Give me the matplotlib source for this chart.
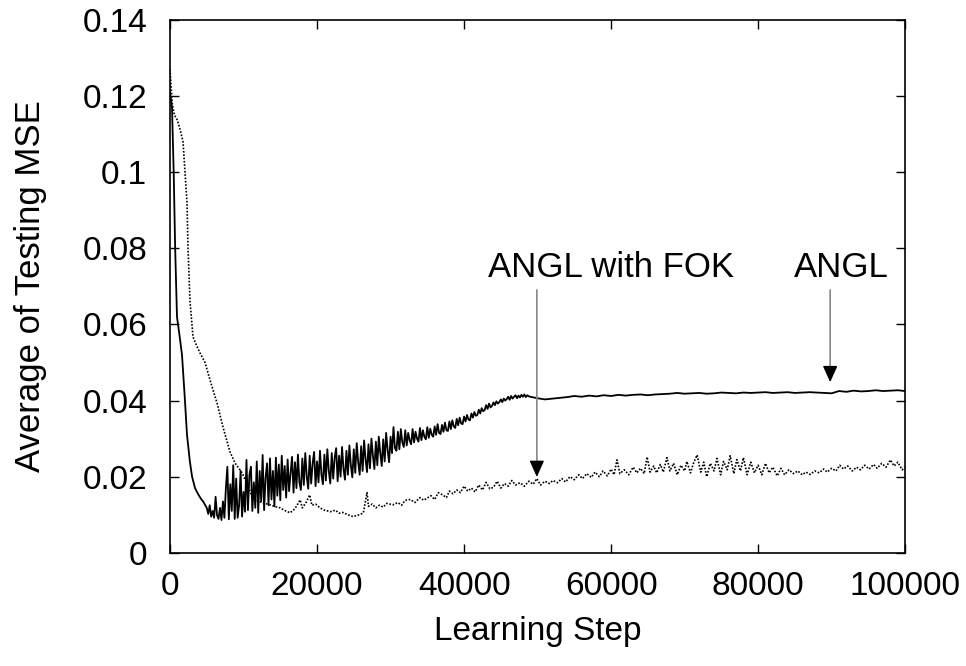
import matplotlib
matplotlib.use("Agg")
import matplotlib.pyplot as plt

plt.rcParams['font.family'] = ['Liberation Sans', 'DejaVu Sans']

# ANGL (solid line): fast initial drop
angl_step_early = [0, 270, 500, 700, 950, 1300, 1630, 2000, 2310, 2700, 3000, 3400,
                   3800, 4200, 4500, 4800]
angl_mse_early = [0.121, 0.117, 0.100, 0.080, 0.062, 0.057, 0.052, 0.041, 0.031, 0.024,
                  0.020, 0.017, 0.0155, 0.0142, 0.0135, 0.0125]

# ANGL: noisy part, one value every 200 steps from 5000 to 48800
angl_step_noisy = list(range(5000, 49000, 200))
angl_mse_noisy = [
    0.0118, 0.0102, 0.0125, 0.0095, 0.0110,
    0.0092, 0.0147, 0.0098, 0.0089, 0.0118,
    0.0086, 0.0135, 0.0092, 0.0170, 0.0226,
    0.0088, 0.0180, 0.0110, 0.0230, 0.0089,
    0.0195, 0.0092, 0.0125, 0.0215, 0.0095,
    0.0160, 0.0108, 0.0244, 0.0112, 0.0205,
    0.0226, 0.0110, 0.0185, 0.0118, 0.0240,
    0.0105, 0.0215, 0.0135, 0.0257, 0.0112,
    0.0198, 0.0235, 0.0125, 0.0248, 0.0140,
    0.0215, 0.0122, 0.0250, 0.0150, 0.0232,
    0.0138, 0.0255, 0.0165, 0.0228, 0.0145,
    0.0245, 0.0162, 0.0210, 0.0252, 0.0158,
    0.0238, 0.0170, 0.0258, 0.0185, 0.0165,
    0.0248, 0.0178, 0.0262, 0.0200, 0.0168,
    0.0255, 0.0182, 0.0235, 0.0265, 0.0175,
    0.0240, 0.0185, 0.0268, 0.0205, 0.0180,
    0.0258, 0.0190, 0.0272, 0.0215, 0.0182,
    0.0262, 0.0195, 0.0250, 0.0275, 0.0188,
    0.0255, 0.0200, 0.0278, 0.0220, 0.0192,
    0.0268, 0.0205, 0.0282, 0.0230, 0.0198,
    0.0272, 0.0210, 0.0288, 0.0238, 0.0205,
    0.0280, 0.0215, 0.0295, 0.0245, 0.0212,
    0.0285, 0.0222, 0.0300, 0.0255, 0.0220,
    0.0292, 0.0230, 0.0305, 0.0262, 0.0228,
    0.0298, 0.0240, 0.0315, 0.0270, 0.0238,
    0.0305, 0.0262, 0.0330, 0.0275, 0.0268,
    0.0318, 0.0272, 0.0325, 0.0290, 0.0278,
    0.0322, 0.0282, 0.0315, 0.0295, 0.0285,
    0.0325, 0.0290, 0.0318, 0.0300, 0.0292,
    0.0328, 0.0296, 0.0322, 0.0305, 0.0298,
    0.0330, 0.0302, 0.0326, 0.0310, 0.0305,
    0.0332, 0.0310, 0.0338, 0.0315, 0.0312,
    0.0336, 0.0318, 0.0342, 0.0322, 0.0320,
    0.0345, 0.0325, 0.0348, 0.0332, 0.0328,
    0.0352, 0.0335, 0.0355, 0.0340, 0.0338,
    0.0358, 0.0345, 0.0362, 0.0350, 0.0348,
    0.0366, 0.0355, 0.0370, 0.0360, 0.0362,
    0.0376, 0.0366, 0.0380, 0.0372, 0.0375,
    0.0388, 0.0378, 0.0392, 0.0382, 0.0386,
    0.0395, 0.0388, 0.0398, 0.0392, 0.0396,
    0.0403, 0.0396, 0.0405, 0.0400, 0.0404,
    0.0410, 0.0402, 0.0412, 0.0405, 0.0410,
    0.0414, 0.0406, 0.0413, 0.0408, 0.0415,
    0.0410, 0.0416, 0.0409, 0.0414, 0.0411,
]

# ANGL: plateau, one value every 1000 steps from 49000 to 100000
angl_step_late = list(range(49000, 100001, 1000))
angl_mse_late = [
    0.0410, 0.0406, 0.0403, 0.0405, 0.0407, 0.0409, 0.0412, 0.0410, 0.0413, 0.0411,
    0.0414, 0.0412, 0.0415, 0.0413, 0.0415, 0.0416, 0.0414, 0.0416, 0.0417, 0.0418,
    0.0420, 0.0418, 0.0419, 0.0420, 0.0418, 0.0419, 0.0421, 0.0420, 0.0419, 0.0421,
    0.0420, 0.0421, 0.0422, 0.0420, 0.0421, 0.0422, 0.0420, 0.0421, 0.0422, 0.0421,
    0.0420, 0.0419, 0.0425, 0.0423, 0.0426, 0.0424, 0.0425, 0.0427, 0.0425, 0.0426,
    0.0427, 0.0425,
]

angl_step = angl_step_early + angl_step_noisy + angl_step_late
angl_mse = angl_mse_early + angl_mse_noisy + angl_mse_late

# ANGL with FOK (dotted line)
fok_step = [
    0, 300, 600, 1000, 1400, 1770, 1900, 2040, 2310, 2450, 2720, 3130, 3600, 4080, 4760,
    5440, 6390, 7210, 8160, 8840, 9800, 10500, 11160, 12000, 12900, 13600, 14200, 15000,
    15500, 16000, 16300, 16800, 17200, 17700, 18000, 18500, 19000, 19300, 19800, 20400,
    21000, 21800, 22500, 23000, 23500, 24200, 24900, 25400, 25800, 26300, 26800, 27000,
    27500, 28000, 28500, 29000, 29500, 30300, 31000, 31500, 32000, 32700, 33300, 34000,
    34500, 35000, 35500, 36000, 36500, 37100, 37600, 38000, 38500, 39000, 39500, 40000,
    40500, 41000, 41500, 42000, 42500, 43000, 43500, 44000, 44500, 45000, 45500, 46000,
    46500, 47000, 47600, 48200, 48800, 49400, 49900, 50400, 51000, 51600, 52100, 52700,
    53300, 53800, 54400, 55000, 55600, 56100, 56700, 57300, 57800, 58400, 58900, 59500,
    60000, 60400, 60800, 61200, 61800, 62400, 63000, 63500, 64000, 64500, 64900, 65300,
    65800, 66200, 66700, 67100, 67600, 68000, 68500, 69000, 69500, 70000, 70300, 70800,
    71200, 71700, 72200, 72600, 73000, 73500, 74000, 74400, 74900, 75300, 75800, 76200,
    76700, 77100, 77600, 78000, 78500, 79000, 79500, 80000, 80500, 81000, 81500, 82000,
    82600, 83100, 83600, 84200, 84800, 85400, 86000, 86500, 87100, 87700, 88300, 88900,
    89400, 90000, 90600, 91100, 91600, 92200, 92800, 93400, 93900, 94500, 95100, 95700,
    96200, 96800, 97400, 98000, 98500, 99000, 99600, 100000,
]
fok_mse = [
    0.127, 0.118, 0.115, 0.1137, 0.111, 0.108, 0.104, 0.100, 0.092, 0.080, 0.066, 0.0567, 0.0545, 0.0525, 0.050,
    0.0454, 0.0394, 0.033, 0.0265, 0.0236, 0.021, 0.018, 0.0148, 0.0135, 0.013, 0.0126, 0.0122, 0.0118,
    0.0112, 0.0108, 0.0105, 0.0112, 0.0122, 0.0139, 0.0118, 0.0132, 0.0152, 0.0125, 0.0128, 0.0118,
    0.0112, 0.0108, 0.0112, 0.0104, 0.0106, 0.0100, 0.0095, 0.0098, 0.0100, 0.0105, 0.0158, 0.0122,
    0.0128, 0.0118, 0.0125, 0.0120, 0.0130, 0.0126, 0.0132, 0.0125, 0.0138, 0.0140, 0.0132, 0.0145,
    0.0138, 0.0144, 0.0150, 0.0140, 0.0158, 0.0152, 0.0145, 0.0162, 0.0155, 0.0165, 0.0158, 0.0175,
    0.0162, 0.0170, 0.0160, 0.0178, 0.0165, 0.0185, 0.0168, 0.0172, 0.0188, 0.0170, 0.0182, 0.0175,
    0.0190, 0.0178, 0.0184, 0.0175, 0.0188, 0.0180, 0.0195, 0.0178, 0.0188, 0.0182, 0.0190, 0.0184,
    0.0195, 0.0186, 0.0200, 0.0192, 0.0205, 0.0195, 0.0208, 0.0198, 0.0212, 0.0200, 0.0215, 0.0202,
    0.0220, 0.0205, 0.0244, 0.0208, 0.0218, 0.0205, 0.0225, 0.0210, 0.0222, 0.0208, 0.0252, 0.0212,
    0.0228, 0.0210, 0.0232, 0.0212, 0.0250, 0.0215, 0.0235, 0.0205, 0.0230, 0.0215, 0.0240, 0.0210,
    0.0235, 0.0257, 0.0212, 0.0238, 0.0200, 0.0235, 0.0215, 0.0248, 0.0205, 0.0240, 0.0218, 0.0255,
    0.0208, 0.0245, 0.0215, 0.0250, 0.0205, 0.0238, 0.0210, 0.0230, 0.0205, 0.0235, 0.0210, 0.0225,
    0.0202, 0.0222, 0.0205, 0.0218, 0.0208, 0.0215, 0.0205, 0.0212, 0.0206, 0.0215, 0.0210, 0.0220,
    0.0212, 0.0222, 0.0215, 0.0230, 0.0220, 0.0228, 0.0215, 0.0225, 0.0218, 0.0230, 0.0220, 0.0232,
    0.0222, 0.0235, 0.0225, 0.0244, 0.0228, 0.0238, 0.0218, 0.0225,
]

x_ticks = [0, 20000, 40000, 60000, 80000, 100000]
y_ticks = [0, 0.02, 0.04, 0.06, 0.08, 0.1, 0.12, 0.14]
y_tick_labels = ["0", "0.02", "0.04", "0.06", "0.08", "0.1", "0.12", "0.14"]

fig = plt.figure(figsize=(9.66, 6.66), dpi=100)
ax = fig.add_axes([0.176, 0.170, 0.761, 0.800])

ax.plot(angl_step, angl_mse, color='black', linewidth=1.3)
ax.plot(fok_step, fok_mse, color='black', linewidth=1.2, linestyle=(0, (1, 1)))

ax.set_xlim(0, 100000)
ax.set_ylim(0, 0.14)
ax.set_xticks(x_ticks)
ax.set_xticklabels([str(v) for v in x_ticks])
ax.set_yticks(y_ticks)
ax.set_yticklabels(y_tick_labels)
ax.tick_params(direction='in', length=6.5, width=1, labelsize=24,
               top=True, right=True)
ax.tick_params(axis='x', pad=13)
ax.tick_params(axis='y', pad=16.5)
for s in ax.spines.values():
    s.set_linewidth(1.2)

ax.set_xlabel("Learning Step", fontsize=24, labelpad=10)
ax.set_ylabel("Average of Testing MSE", fontsize=25)
ax.yaxis.set_label_coords(-0.168, 0.5)

# labels with arrows
ax.text(60000, 0.0750, "ANGL with FOK", fontsize=25, ha='center', va='center')
ax.text(91300, 0.0750, "ANGL", fontsize=25, ha='center', va='center')

for xa, y_top, y_tip in [(49900, 0.0698, 0.0192), (89800, 0.0698, 0.0441)]:
    ax.annotate('', xy=(xa, y_tip + 0.004), xytext=(xa, y_top),
                arrowprops=dict(arrowstyle='-', color='#888888', lw=1.2))
    ax.annotate('', xy=(xa, y_tip), xytext=(xa, y_tip + 0.0048),
                arrowprops=dict(arrowstyle='-|>,head_length=1.0,head_width=0.45',
                                color='black', lw=1.0))

fig.savefig("out.png", dpi=100)
